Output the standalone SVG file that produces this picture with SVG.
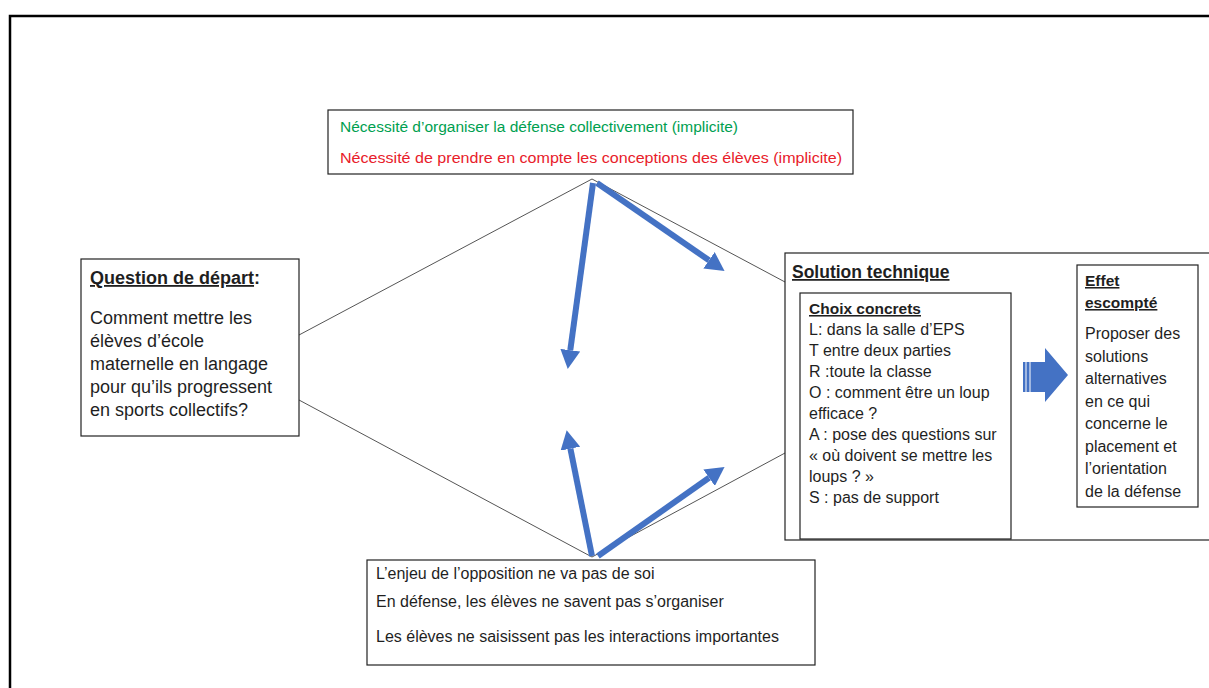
<svg xmlns="http://www.w3.org/2000/svg" width="1209" height="688" viewBox="0 0 1209 688">
<style>
text{font-family:"Liberation Sans",Arial,sans-serif;fill:#1f1f1f}
.box{fill:#fff;stroke:#222;stroke-width:1.2}
.top{font-size:15.5px}
.q{font-size:18px}
.c{font-size:16px}
.e{font-size:16px}
.bt{font-size:16px}
.b{font-weight:bold}
.u{text-decoration:underline}
.thin{stroke:#555;stroke-width:1;fill:none}
.blue{stroke:#4472C4;stroke-width:6;fill:none;marker-end:url(#ah)}
</style>
<defs>
<marker id="ah" markerUnits="userSpaceOnUse" markerWidth="20" markerHeight="20" refX="0" refY="9" orient="auto" viewBox="0 0 18 18">
<path d="M0,0 L17,9 L0,18 z" fill="#4472C4"/>
</marker>
</defs>
<rect x="0" y="0" width="1209" height="688" fill="#fff"/>
<rect x="10" y="16" width="1220" height="700" fill="none" stroke="#000" stroke-width="2.5"/>

<g id="connectors">
<polyline class="thin" points="299,335 592,179 785,282"/>
<polyline class="thin" points="299,400 592,557 785,453"/>
<line class="blue" x1="593" y1="183" x2="570.3" y2="350.2"/>
<line class="blue" x1="597" y1="183" x2="709" y2="260.3"/>
<line class="blue" x1="592" y1="556" x2="570.4" y2="448.7"/>
<line class="blue" x1="598" y1="556" x2="709.1" y2="477.8"/>
</g>

<g id="node-top">
<rect class="box" x="328" y="110" width="525" height="64"/>
<text class="top" x="340" y="132" textLength="398" lengthAdjust="spacingAndGlyphs" style="fill:#00A050">Nécessité d’organiser la défense collectivement (implicite)</text>
<text class="top" x="340" y="163" textLength="502" lengthAdjust="spacingAndGlyphs" style="fill:#E8202A">Nécessité de prendre en compte les conceptions des élèves (implicite)</text>
</g>

<g id="node-question">
<rect class="box" x="81" y="259" width="218" height="177"/>
<text class="q b" x="90" y="284"><tspan class="u">Question de départ</tspan>:</text>
<text class="q" x="90" y="324">Comment mettre les</text>
<text class="q" x="90" y="347">élèves d’école</text>
<text class="q" x="90" y="370">maternelle en langage</text>
<text class="q" x="90" y="393">pour qu’ils progressent</text>
<text class="q" x="90" y="416">en sports collectifs?</text>
</g>

<g id="node-solution">
<rect class="box" x="785" y="253" width="440" height="287"/>
<text class="b u" style="font-size:17.5px" x="792" y="278">Solution technique</text>
</g>

<g id="node-choix">
<rect class="box" x="800" y="293" width="211" height="246"/>
<text class="b u" style="font-size:15.5px" x="809" y="314">Choix concrets</text>
<text class="c" x="809" y="335">L: dans la salle d’EPS</text>
<text class="c" x="809" y="356">T entre deux parties</text>
<text class="c" x="809" y="377">R :toute la classe</text>
<text class="c" x="809" y="398">O : comment être un loup</text>
<text class="c" x="809" y="419">efficace ?</text>
<text class="c" x="809" y="440">A : pose des questions sur</text>
<text class="c" x="809" y="461">« où doivent se mettre les</text>
<text class="c" x="809" y="482">loups ? »</text>
<text class="c" x="809" y="503">S : pas de support</text>
</g>

<g id="block-arrow">
<rect x="1023" y="362" width="2.5" height="30" fill="#4472C4"/>
<rect x="1026.5" y="362" width="3" height="30" fill="#4472C4"/>
<path d="M1030.5,362 L1045,362 L1045,348 L1068,375 L1045,402 L1045,392 L1030.5,392 z" fill="#4472C4"/>
</g>

<g id="node-effet">
<rect class="box" x="1077" y="265" width="121" height="242"/>
<text class="b u" style="font-size:15.5px" x="1085" y="286">Effet</text>
<text class="b u" style="font-size:15.5px" x="1085" y="308">escompté</text>
<text class="e" x="1085" y="339">Proposer des</text>
<text class="e" x="1085" y="362">solutions</text>
<text class="e" x="1085" y="384">alternatives</text>
<text class="e" x="1085" y="407">en ce qui</text>
<text class="e" x="1085" y="429">concerne le</text>
<text class="e" x="1085" y="452">placement et</text>
<text class="e" x="1085" y="474">l’orientation</text>
<text class="e" x="1085" y="497">de la défense</text>
</g>

<g id="node-bottom">
<rect class="box" x="367" y="560" width="448" height="105"/>
<text class="bt" x="376" y="579">L’enjeu de l’opposition ne va pas de soi</text>
<text class="bt" x="376" y="607">En défense, les élèves ne savent pas s’organiser</text>
<text class="bt" x="376" y="642">Les élèves ne saisissent pas les interactions importantes</text>
</g>
</svg>
